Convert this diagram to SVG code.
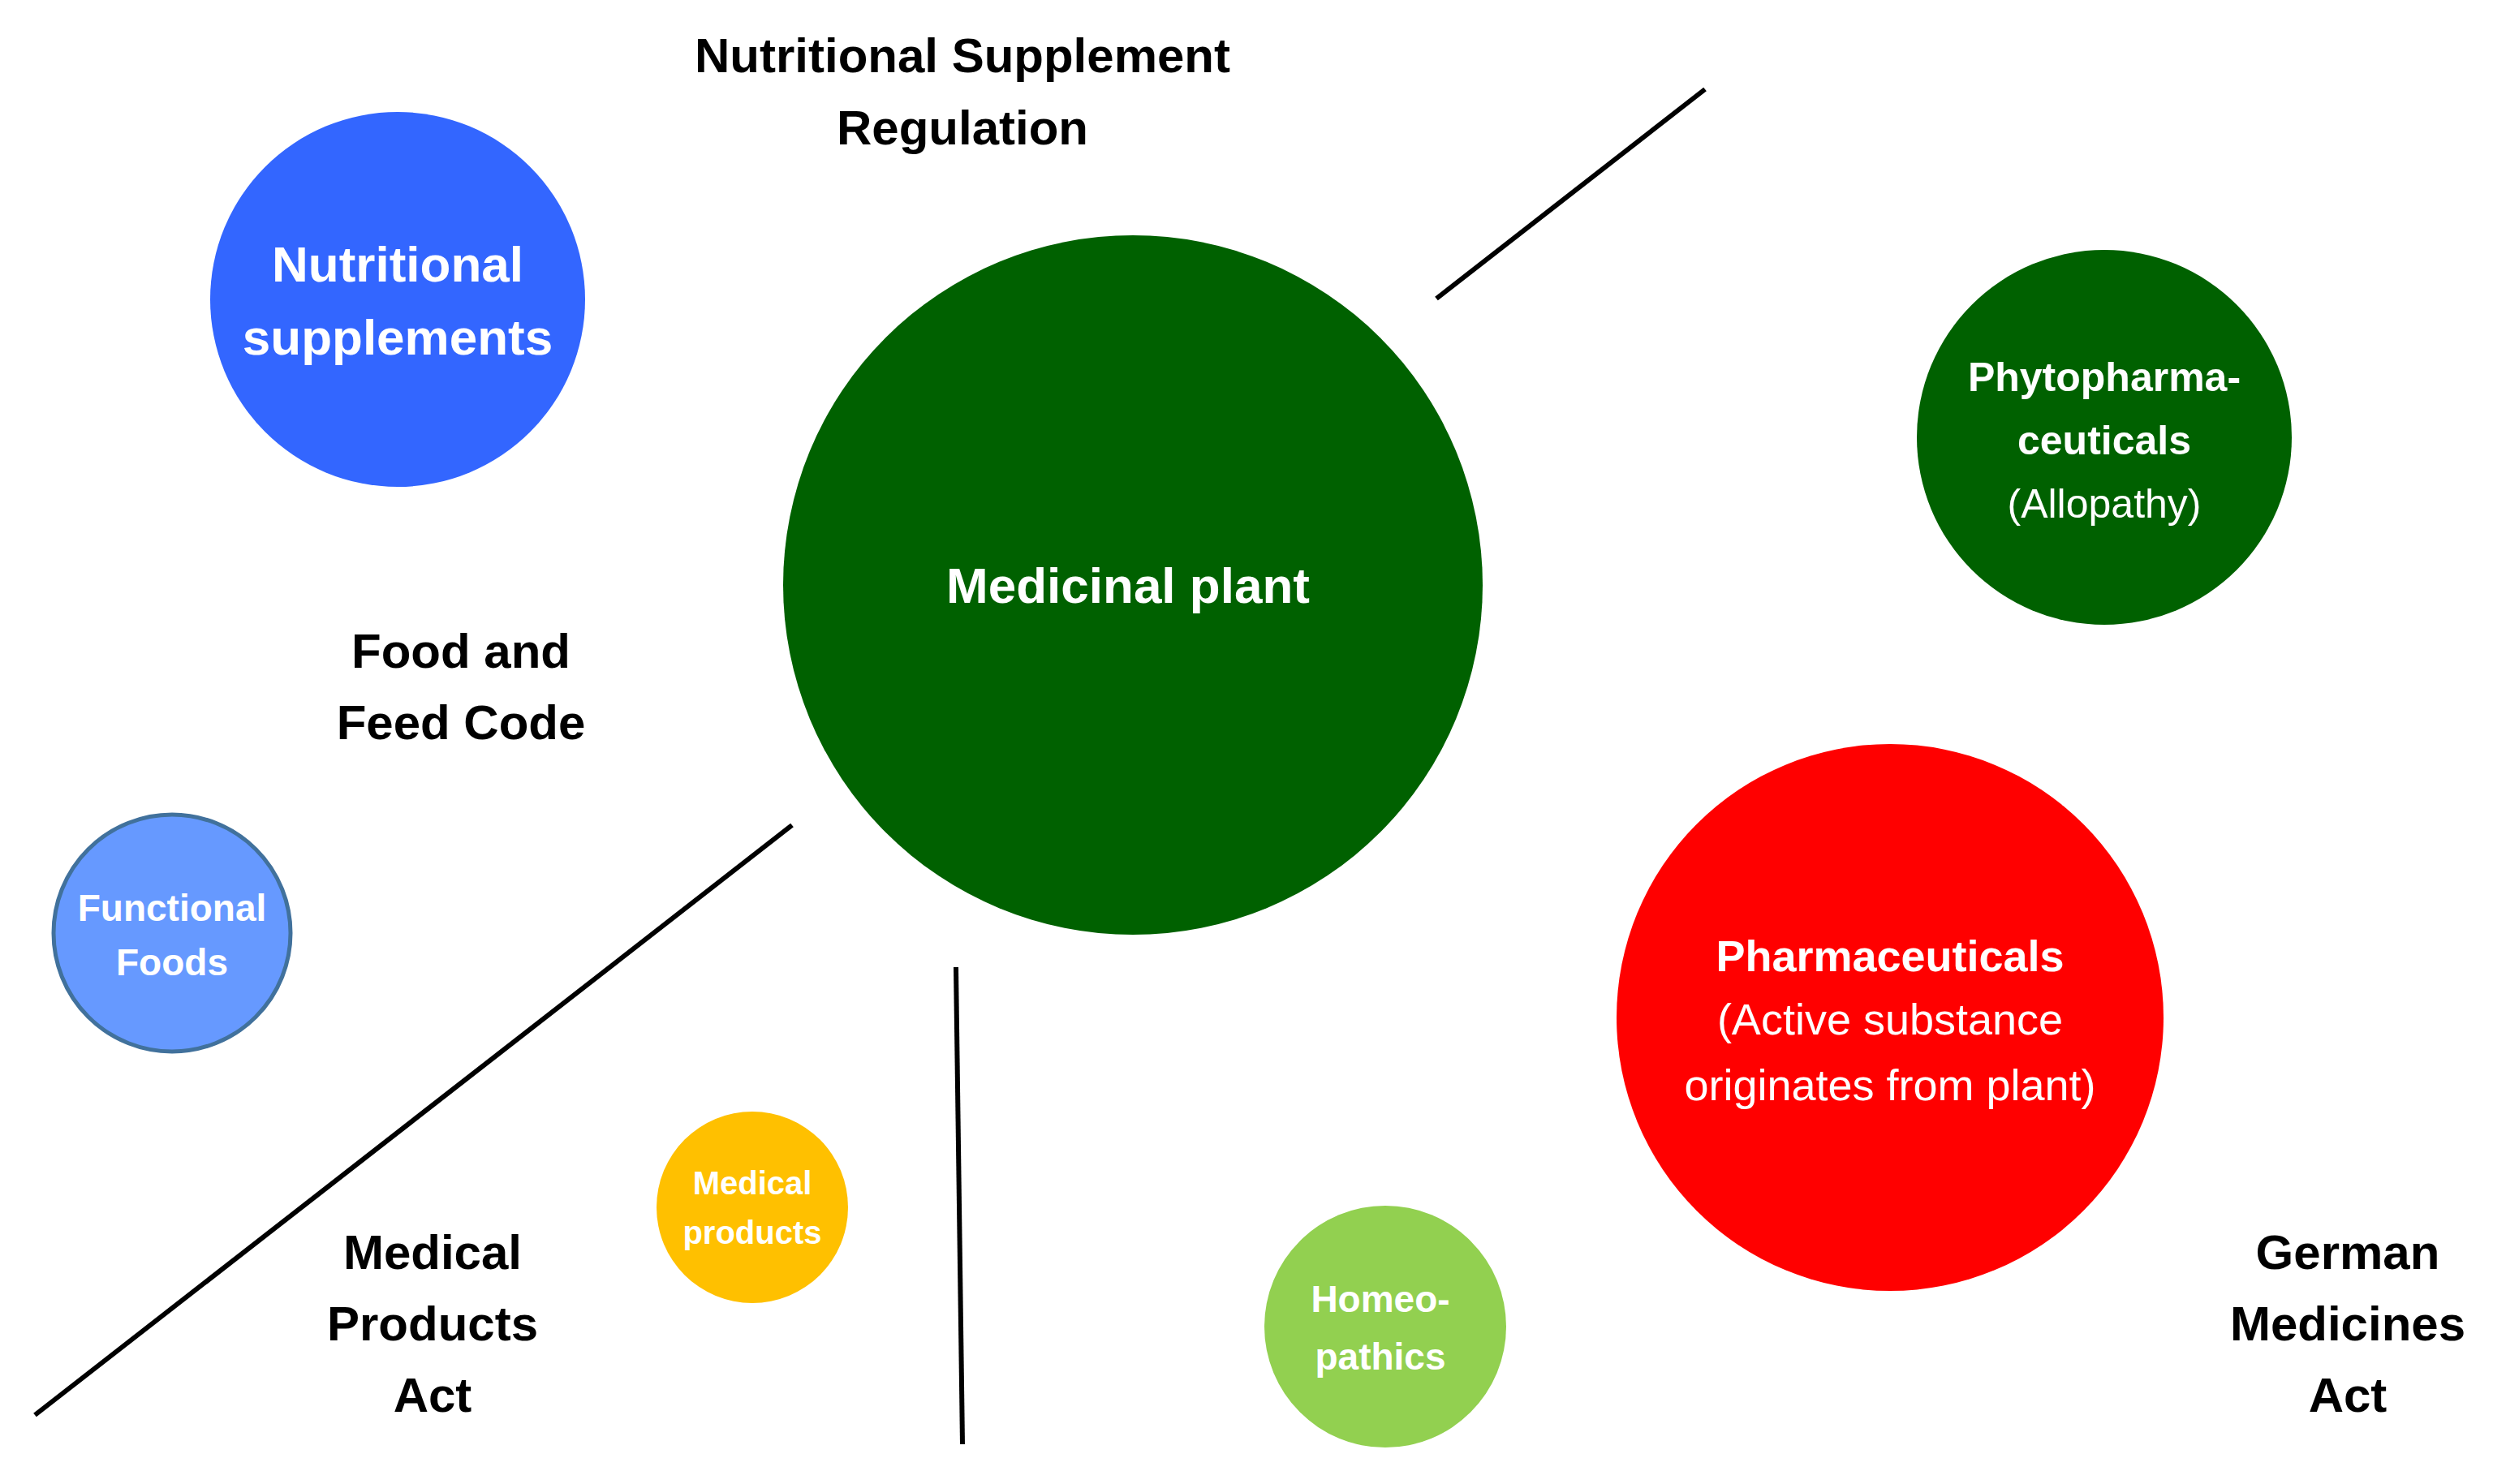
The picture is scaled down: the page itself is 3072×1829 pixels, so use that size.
<svg xmlns="http://www.w3.org/2000/svg" width="3072" height="1829" viewBox="0 0 3072 1829">
<style>
text{font-family:"Liberation Sans",Arial,sans-serif;font-weight:bold;text-anchor:middle;dominant-baseline:central}
.w{fill:#fff}.k{fill:#000}.n{font-weight:normal}
.l{stroke:#000;stroke-width:6;fill:none}
</style>
<rect width="3072" height="1829" fill="#fff"/>
<g id="connectors">
<line class="l" x1="1770" y1="368" x2="2101" y2="110"/>
<line class="l" x1="976" y1="1017" x2="43" y2="1744"/>
<line class="l" x1="1178" y1="1192" x2="1186" y2="1780"/>
</g>
<g id="title" font-size="60"><text class="k" x="1186" y="68">Nutritional Supplement</text><text class="k" x="1186" y="157">Regulation</text></g>
<g id="food"><text class="k" font-size="60" x="568" y="802">Food and</text><text class="k" font-size="60" x="568" y="890">Feed Code</text></g>
<g id="mpa" font-size="60"><text class="k" x="533" y="1543">Medical</text><text class="k" x="533" y="1631">Products</text><text class="k" x="533" y="1719">Act</text></g>
<g id="gma" font-size="60"><text class="k" x="2893" y="1543">German</text><text class="k" x="2893" y="1631">Medicines</text><text class="k" x="2893" y="1719">Act</text></g>
<g id="supp"><circle cx="490" cy="369" r="231" fill="#3366FF"/><text class="w" font-size="62" x="490" y="325">Nutritional</text><text class="w" font-size="62" x="490" y="415">supplements</text></g>
<g id="plant"><circle cx="1396" cy="721" r="431" fill="#006100"/><text class="w" font-size="62" x="1390" y="721">Medicinal plant</text></g>
<g id="phyto"><circle cx="2593" cy="539" r="231" fill="#006100"/><text class="w" font-size="50" x="2593" y="465">Phytopharma-</text><text class="w" font-size="50" x="2593" y="543">ceuticals</text><text class="w n" font-size="50" x="2593" y="621">(Allopathy)</text></g>
<g id="pharma"><circle cx="2329" cy="1254" r="337" fill="#FF0000"/><text class="w" font-size="54" x="2329" y="1178">Pharmaceuticals</text><text class="w n" font-size="54" x="2329" y="1256">(Active substance</text><text class="w n" font-size="54" x="2329" y="1337">originates from plant)</text></g>
<g id="functional"><circle cx="212" cy="1150" r="146" fill="#6699FF" stroke="#41719C" stroke-width="5"/><text class="w" font-size="46" x="212" y="1119">Functional</text><text class="w" font-size="46" x="212" y="1186">Foods</text></g>
<g id="medprod"><circle cx="927" cy="1488" r="118" fill="#FFC000"/><text class="w" font-size="40" x="927" y="1458">Medical</text><text class="w" font-size="40" x="927" y="1519">products</text></g>
<g id="homeo"><circle cx="1707" cy="1635" r="149" fill="#92D050"/><text class="w" font-size="46" x="1701" y="1601">Homeo-</text><text class="w" font-size="46" x="1701" y="1672">pathics</text></g>
</svg>
